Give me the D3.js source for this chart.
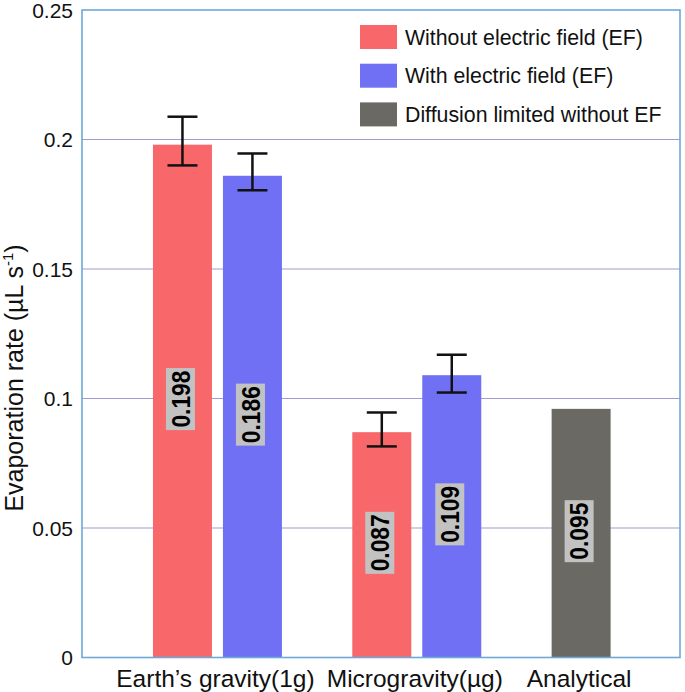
<!DOCTYPE html>
<html>
<head>
<meta charset="utf-8">
<script src="https://cdn.jsdelivr.net/npm/d3@7"></script>
<style>
  html, body { margin: 0; padding: 0; background: #fff; }
  svg { display: block; font-family: "Liberation Sans", Arial, sans-serif; }
</style>
</head>
<body>
<svg id="chart" width="685" height="692"></svg>
<script>
// ---- data ----
const categories = ["Earth\u2019s gravity(1g)", "Microgravity(\u00b5g)", "Analytical"];
const seriesNames = ["Without electric field (EF)", "With electric field (EF)", "Diffusion limited without EF"];
const seriesColors = ["#f8686a", "#7070f5", "#6a6963"];
const withoutEF = [0.198, 0.087, null];
const withEF = [0.186, 0.109, null];
const diffusion = [null, null, 0.096];
const withoutEFLabels = ["0.198", "0.087", null];
const withEFLabels = ["0.186", "0.109", null];
const diffusionLabels = [null, null, "0.095"];
const withoutEFErrLow = [0.190, 0.0815, null];
const withoutEFErrHigh = [0.2088, 0.0946, null];
const withEFErrLow = [0.1804, 0.1023, null];
const withEFErrHigh = [0.1946, 0.1169, null];
const yTicks = [0, 0.05, 0.1, 0.15, 0.2, 0.25];
const yTickLabels = ["0", "0.05", "0.1", "0.15", "0.2", "0.25"];

// ---- layout ----
const svg = d3.select("#chart");
const mLeft = 82, mRight = 680, mTop = 10, mBottom = 657.5;

const y = d3.scaleLinear().domain([0, 0.25]).range([mBottom, mTop]);
const x0 = d3.scaleBand().domain(categories).range([mLeft, mRight]);
const bw = x0.bandwidth();
const x1 = d3.scaleBand().domain([0, 1]).range([bw * 0.356, bw * 1.003]).paddingInner(0.157).paddingOuter(0);

// build rows (slot = position within group)
const rows = [];
categories.forEach((c, i) => {
  if (withoutEF[i] != null) rows.push({cat: c, s: 0, slot: 0, v: withoutEF[i], label: withoutEFLabels[i], lo: withoutEFErrLow[i], hi: withoutEFErrHigh[i]});
  if (withEF[i] != null) rows.push({cat: c, s: 1, slot: 1, v: withEF[i], label: withEFLabels[i], lo: withEFErrLow[i], hi: withEFErrHigh[i]});
  if (diffusion[i] != null) rows.push({cat: c, s: 2, slot: 0, v: diffusion[i], label: diffusionLabels[i], lo: null, hi: null});
});
const bx = d => x0(d.cat) + x1(d.slot);

// gridlines
svg.append("g").selectAll("line").data(yTicks.filter(t => t > 0 && t < 0.25)).join("line")
  .attr("x1", mLeft).attr("x2", mRight)
  .attr("y1", d => y(d)).attr("y2", d => y(d))
  .attr("stroke", "#a09bd2").attr("stroke-width", 1.2);

// bars
svg.append("g").selectAll("rect").data(rows).join("rect")
  .attr("x", bx).attr("width", x1.bandwidth())
  .attr("y", d => y(d.v)).attr("height", d => y(0) - y(d.v))
  .attr("fill", d => seriesColors[d.s]);

// error bars
const eb = svg.append("g").selectAll("g").data(rows.filter(d => d.lo != null)).join("g")
  .attr("stroke", "#111").attr("stroke-width", 2.5).attr("fill", "none");
eb.append("line")
  .attr("x1", d => bx(d) + x1.bandwidth() / 2).attr("x2", d => bx(d) + x1.bandwidth() / 2)
  .attr("y1", d => y(d.lo)).attr("y2", d => y(d.hi));
eb.append("line")
  .attr("x1", d => bx(d) + x1.bandwidth() / 2 - 15).attr("x2", d => bx(d) + x1.bandwidth() / 2 + 15)
  .attr("y1", d => y(d.lo)).attr("y2", d => y(d.lo));
eb.append("line")
  .attr("x1", d => bx(d) + x1.bandwidth() / 2 - 15).attr("x2", d => bx(d) + x1.bandwidth() / 2 + 15)
  .attr("y1", d => y(d.hi)).attr("y2", d => y(d.hi));

// value labels (rotated, on grey boxes)
const lab = svg.append("g").selectAll("g").data(rows).join("g")
  .attr("transform", d => `translate(${bx(d) + x1.bandwidth() / 2 - 2},${(y(d.v) + y(0)) / 2 - 2}) rotate(-90)`);
lab.append("rect").attr("x", -31).attr("y", -14.5).attr("width", 62).attr("height", 29).attr("fill", "#c2c2c2");
lab.append("text").attr("text-anchor", "middle").attr("dy", "0.36em")
  .attr("font-size", 26).attr("font-weight", "bold").attr("fill", "#000")
  .attr("textLength", 57).attr("lengthAdjust", "spacingAndGlyphs")
  .text(d => d.label);

// frame
svg.append("rect").attr("x", mLeft).attr("y", mTop).attr("width", mRight - mLeft).attr("height", mBottom - mTop)
  .attr("fill", "none").attr("stroke", "#6ea8d8").attr("stroke-width", 1.6);

// y axis labels
svg.append("g").selectAll("text").data(yTicks).join("text")
  .attr("x", 73).attr("y", d => y(d)).attr("dy", "0.36em")
  .attr("text-anchor", "end").attr("font-size", 21).attr("fill", "#111")
  .text((d, i) => yTickLabels[i]);

// y axis title
const yt = svg.append("text").attr("transform", "translate(23,378) rotate(-90)")
  .attr("text-anchor", "middle").attr("font-size", 25).attr("fill", "#111");
yt.append("tspan").text("Evaporation rate (\u00b5L s");
yt.append("tspan").attr("font-size", 15).attr("dy", -10).text("-1");
yt.append("tspan").attr("dy", 10).text(")");

// x category labels centered on each group's bars
const groupCenter = c => {
  const rs = rows.filter(d => d.cat === c);
  const lo = d3.min(rs, bx), hi = d3.max(rs, d => bx(d) + x1.bandwidth());
  return (lo + hi) / 2;
};
svg.append("g").selectAll("text").data(categories).join("text")
  .attr("x", d => groupCenter(d) - 2).attr("y", 687)
  .attr("text-anchor", "middle").attr("font-size", 24.5).attr("fill", "#111")
  .text(d => d);

// legend
const lg = svg.append("g").selectAll("g").data(seriesNames).join("g")
  .attr("transform", (d, i) => `translate(360,${25 + i * 38.7})`);
lg.append("rect").attr("width", 37).attr("height", 24).attr("fill", (d, i) => seriesColors[i]);
lg.append("text").attr("x", 45).attr("y", 12).attr("dy", "0.36em")
  .attr("font-size", 21.3).attr("fill", "#111").text(d => d);
</script>
</body>
</html>
